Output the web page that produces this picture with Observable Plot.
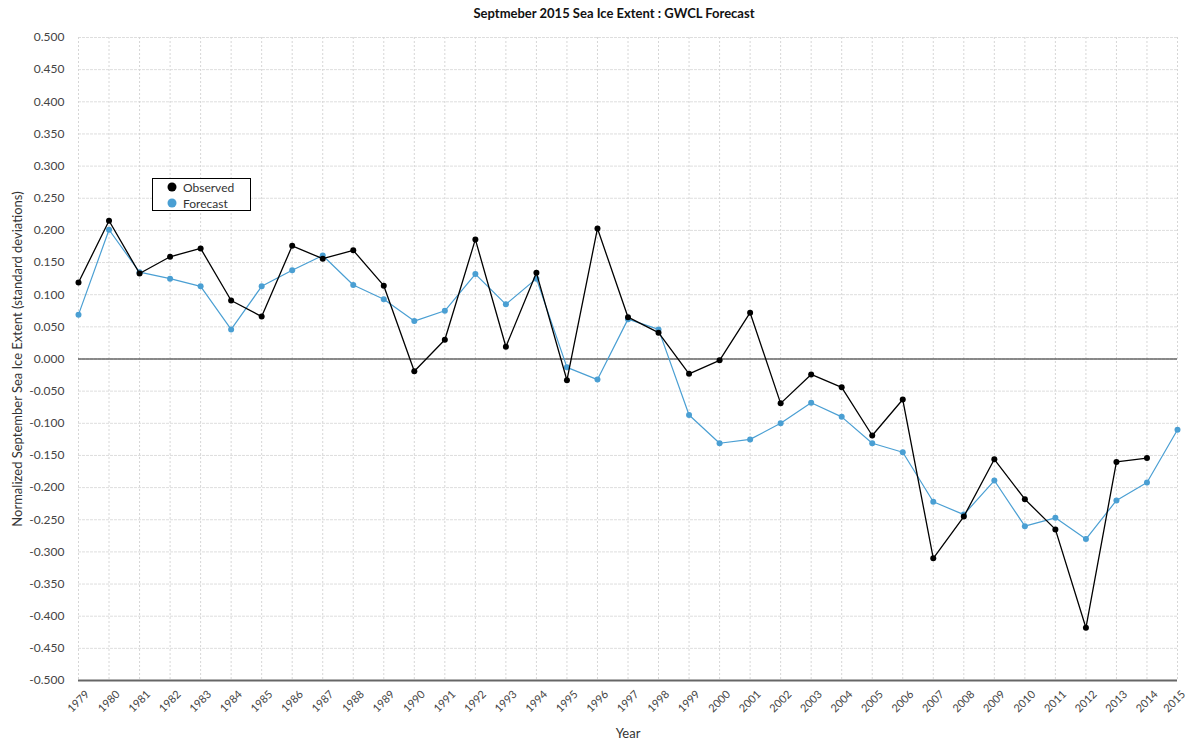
<!DOCTYPE html>
<html>
<head>
<meta charset="utf-8">
<script src="https://cdn.jsdelivr.net/npm/d3@7"></script>
<script src="https://cdn.jsdelivr.net/npm/@observablehq/plot@0.6"></script>
<style>
  html, body { margin: 0; padding: 0; background: #fff; }
  #wrap { position: relative; width: 1188px; height: 742px; font-family: Lato, "Open Sans", sans-serif; }
  #legend { position: absolute; left: 152px; top: 178px; width: 97px; height: 31px; border: 1px solid #000; background: #fff; font-size: 12px; color: #333; }
  #legend .row { position: absolute; left: 0; height: 16px; display: flex; align-items: center; }
  #legend svg { margin-left: 14px; margin-right: 6px; }
</style>
</head>
<body>
<div id="wrap"><div id="legend"></div></div>
<script>
const title = "Septmeber 2015 Sea Ice Extent : GWCL Forecast";
const xLabel = "Year";
const yLabel = "Normalized September Sea Ice Extent (standard deviations)";
const years = [1979,1980,1981,1982,1983,1984,1985,1986,1987,1988,1989,1990,1991,1992,1993,1994,1995,1996,1997,1998,1999,2000,2001,2002,2003,2004,2005,2006,2007,2008,2009,2010,2011,2012,2013,2014,2015];
const observed = [0.119,0.215,0.133,0.159,0.172,0.091,0.066,0.176,0.156,0.169,0.114,-0.019,0.030,0.186,0.019,0.134,-0.033,0.203,0.065,0.041,-0.023,-0.002,0.072,-0.069,-0.024,-0.044,-0.119,-0.063,-0.310,-0.245,-0.156,-0.218,-0.265,-0.418,-0.160,-0.154];
const forecast = [0.069,0.201,0.135,0.125,0.113,0.046,0.113,0.138,0.161,0.115,0.093,0.059,0.075,0.132,0.085,0.125,-0.013,-0.032,0.062,0.046,-0.087,-0.131,-0.125,-0.100,-0.068,-0.090,-0.131,-0.145,-0.222,-0.242,-0.189,-0.260,-0.247,-0.280,-0.220,-0.192,-0.110];
const yTicks = [-0.5,-0.45,-0.4,-0.35,-0.3,-0.25,-0.2,-0.15,-0.1,-0.05,0,0.05,0.1,0.15,0.2,0.25,0.3,0.35,0.4,0.45,0.5];
const yTickLabels = ["-0.500","-0.450","-0.400","-0.350","-0.300","-0.250","-0.200","-0.150","-0.100","-0.050","0.000","0.050","0.100","0.150","0.200","0.250","0.300","0.350","0.400","0.450","0.500"];
const seriesNames = ["Observed", "Forecast"];
const seriesColors = ["#000000", "#4a9fd3"];

const obsData = observed.map((v, i) => ({year: years[i], value: v}));
const fcData = forecast.map((v, i) => ({year: years[i], value: v}));
const lastYear = years[years.length - 1];

const chart = Plot.plot({
  width: 1188,
  height: 742,
  marginTop: 37,
  marginBottom: 62,
  marginLeft: 78,
  marginRight: 11,
  style: {fontFamily: "Lato, 'Open Sans', sans-serif", fontSize: "12px", color: "#333", background: "#fff"},
  x: {domain: [1979, 2015], axis: null},
  y: {domain: [-0.5, 0.5], axis: null},
  marks: [
    Plot.gridY(yTicks, {stroke: "#dedede", strokeOpacity: 1, strokeDasharray: "3,1"}),
    Plot.gridX(years, {stroke: "#d6d6d6", strokeOpacity: 1, strokeDasharray: "2,2"}),
    Plot.axisY(yTicks, {tickSize: 0, tickPadding: 14, tickFormat: d => yTickLabels[yTicks.indexOf(d)], fontSize: 12, fill: "#444", label: null}),
    Plot.text(years.filter(y => y !== lastYear), {x: d => d, frameAnchor: "bottom", dy: 21, rotate: -45, textAnchor: "middle", lineAnchor: "middle", fontSize: 11, fill: "#444", text: d => String(d)}),
    Plot.text([lastYear], {x: d => d, frameAnchor: "bottom", dx: -3, dy: 21, rotate: -45, textAnchor: "middle", lineAnchor: "middle", fontSize: 11, fill: "#444", text: d => String(d)}),
    Plot.ruleY([0], {stroke: "#222", strokeWidth: 1.2}),
    Plot.ruleY([-0.5], {stroke: "#666", strokeWidth: 2}),
    Plot.line(fcData, {x: "year", y: "value", stroke: seriesColors[1], strokeWidth: 1.2}),
    Plot.dot(fcData, {x: "year", y: "value", r: 3, fill: seriesColors[1]}),
    Plot.line(obsData, {x: "year", y: "value", stroke: seriesColors[0], strokeWidth: 1.3}),
    Plot.dot(obsData, {x: "year", y: "value", r: 3, fill: seriesColors[0]}),
    Plot.text([title], {frameAnchor: "top", dx: -14, dy: -24, lineAnchor: "middle", textAnchor: "middle", fontWeight: "bold", fontSize: 13, fill: "#111"}),
    Plot.text([xLabel], {frameAnchor: "bottom", dy: 53, lineAnchor: "middle", textAnchor: "middle", fontSize: 13, fill: "#333"}),
    Plot.text([yLabel], {frameAnchor: "left", dx: -61, rotate: -90, lineAnchor: "middle", textAnchor: "middle", fontSize: 13, fill: "#333"})
  ]
});
const wrap = document.getElementById("wrap");
wrap.insertBefore(chart, wrap.firstChild);

const legend = document.getElementById("legend");
seriesNames.forEach((name, i) => {
  const row = document.createElement("div");
  row.className = "row";
  row.style.top = (i * 16) + "px";
  row.innerHTML = `<svg width="10" height="10"><circle cx="5" cy="5" r="4.5" fill="${seriesColors[i]}"></circle></svg><span>${name}</span>`;
  legend.appendChild(row);
});
</script>
</body>
</html>
